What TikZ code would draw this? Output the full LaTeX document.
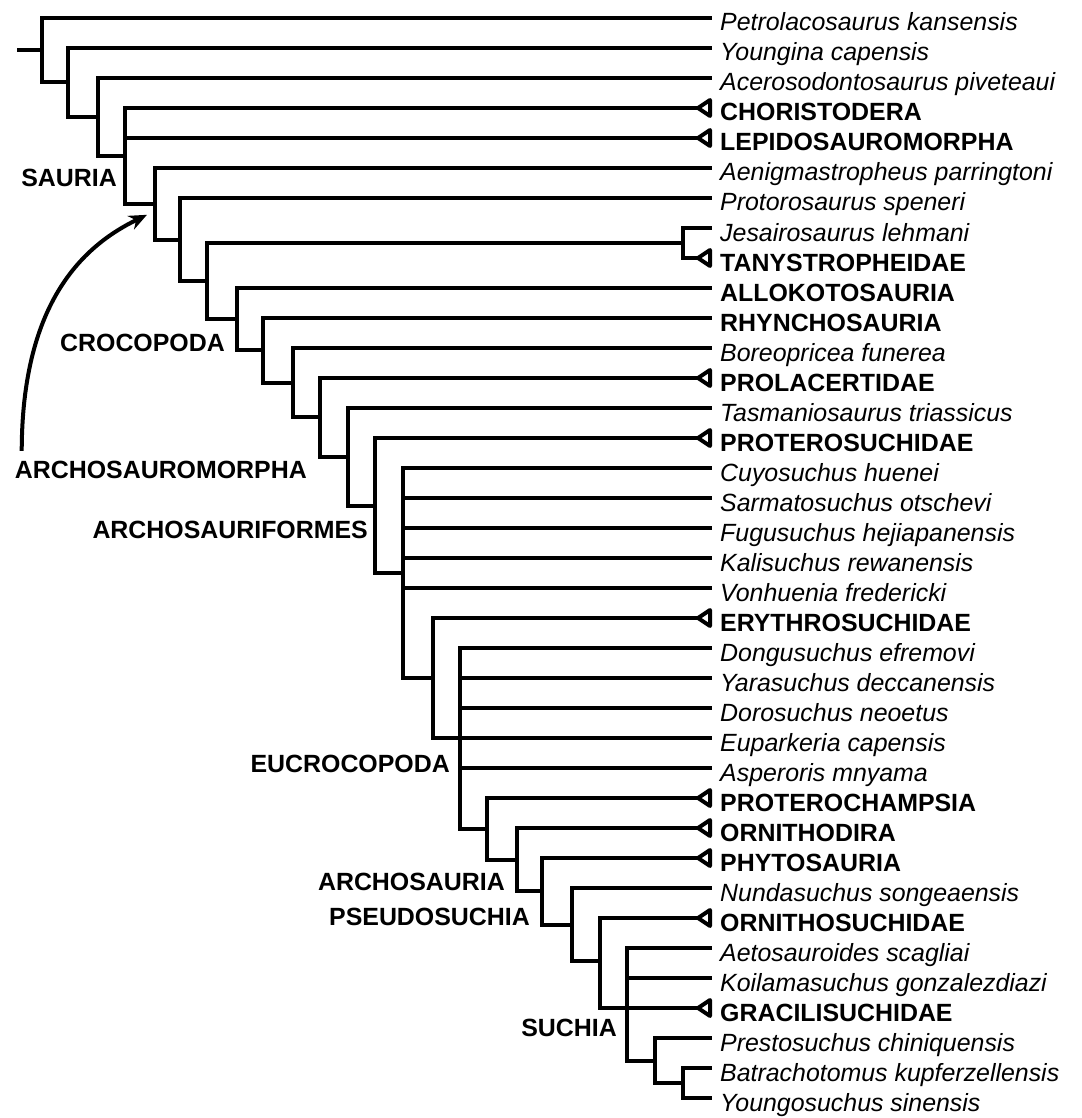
\documentclass[tikz,border=0pt]{standalone}
\usepackage{fontspec}
\setmainfont{Liberation Sans}
\usepackage{tikz}
\usetikzlibrary{arrows.meta}

\newcommand{\treefont}{\fontsize{24.9pt}{30pt}\selectfont}

\tikzset{
  branch/.style={line width=4pt},
  taxon/.style={anchor=west, inner xsep=8pt, inner ysep=0pt,
    text height=32pt, text depth=6pt, font=\treefont\itshape},
  group/.style={taxon, font=\treefont\bfseries},
  cladelabel/.style={anchor=east, inner sep=0pt, font=\treefont\bfseries},
  collapsed/.style={line width=4pt, line join=round, fill=white}
}

\begin{document}
\begin{tikzpicture}[x=1pt,y=-1pt]
\useasboundingbox (0,0) rectangle (1081,1118);

% terminal taxa, one row every 30pt
\foreach \i/\kind/\name in {
  1/taxon/Petrolacosaurus kansensis,
  2/taxon/Youngina capensis,
  3/taxon/Acerosodontosaurus piveteaui,
  4/group/CHORISTODERA,
  5/group/LEPIDOSAUROMORPHA,
  6/taxon/Aenigmastropheus parringtoni,
  7/taxon/Protorosaurus speneri,
  8/taxon/Jesairosaurus lehmani,
  9/group/TANYSTROPHEIDAE,
  10/group/ALLOKOTOSAURIA,
  11/group/RHYNCHOSAURIA,
  12/taxon/Boreopricea funerea,
  13/group/PROLACERTIDAE,
  14/taxon/Tasmaniosaurus triassicus,
  15/group/PROTEROSUCHIDAE,
  16/taxon/Cuyosuchus huenei,
  17/taxon/Sarmatosuchus otschevi,
  18/taxon/Fugusuchus hejiapanensis,
  19/taxon/Kalisuchus rewanensis,
  20/taxon/Vonhuenia fredericki,
  21/group/ERYTHROSUCHIDAE,
  22/taxon/Dongusuchus efremovi,
  23/taxon/Yarasuchus deccanensis,
  24/taxon/Dorosuchus neoetus,
  25/taxon/Euparkeria capensis,
  26/taxon/Asperoris mnyama,
  27/group/PROTEROCHAMPSIA,
  28/group/ORNITHODIRA,
  29/group/PHYTOSAURIA,
  30/taxon/Nundasuchus songeaensis,
  31/group/ORNITHOSUCHIDAE,
  32/taxon/Aetosauroides scagliai,
  33/taxon/Koilamasuchus gonzalezdiazi,
  34/group/GRACILISUCHIDAE,
  35/taxon/Prestosuchus chiniquensis,
  36/taxon/Batrachotomus kupferzellensis,
  37/taxon/Youngosuchus sinensis}
  {\node[\kind] (t\i) at (712,{18+30*(\i-1)}) {\name};}

% internal nodes
\coordinate (root) at (17,50.2);
\coordinate (n1) at (42,50.2);
\coordinate (n2) at (68,82.5);
\coordinate (n3) at (98,117);
\coordinate (n4) at (125,155.9);
\coordinate (n5) at (155,203.8);
\coordinate (n6) at (180,239.6);
\coordinate (n7) at (207,281.1);
\coordinate (nj) at (683,243);
\coordinate (n8) at (237,319.2);
\coordinate (n9) at (263,350.4);
\coordinate (n10) at (293,382.7);
\coordinate (n11) at (320,417.4);
\coordinate (n12) at (348,456.8);
\coordinate (n13) at (375,505.6);
\coordinate (n14) at (403,573.1);
\coordinate (n15) at (433,678);
\coordinate (n16) at (460,738);
\coordinate (n17) at (487,828.8);
\coordinate (n18) at (517,859.6);
\coordinate (n19) at (542,891.3);
\coordinate (n20) at (572,924.6);
\coordinate (n21) at (600,961.1);
\coordinate (n22) at (627,1008);
\coordinate (n23) at (655,1060.5);
\coordinate (n24) at (683,1083);

% branches
\draw[branch] (root) -- (n1);
\foreach \p/\c in {n1/t1, n1/n2, n2/t2, n2/n3, n3/t3, n3/n4,
    n4/t4, n4/t5, n4/n5, n5/t6, n5/n6, n6/t7, n6/n7,
    n7/nj, n7/n8, nj/t8, nj/t9, n8/t10, n8/n9, n9/t11, n9/n10,
    n10/t12, n10/n11, n11/t13, n11/n12, n12/t14, n12/n13,
    n13/t15, n13/n14, n14/t16, n14/t17, n14/t18, n14/t19, n14/t20, n14/n15,
    n15/t21, n15/n16, n16/t22, n16/t23, n16/t24, n16/t25, n16/t26, n16/n17,
    n17/t27, n17/n18, n18/t28, n18/n19, n19/t29, n19/n20,
    n20/t30, n20/n21, n21/t31, n21/n22,
    n22/t32, n22/t33, n22/t34, n22/n23, n23/t35, n23/n24, n24/t36, n24/t37}
  {\draw[branch] (\p) |- (\c);}

% collapsed clades
\foreach \i in {4,5,9,13,15,21,27,28,29,31,34}
  {\draw[collapsed] ([xshift=-2pt]t\i.west) ++(0,-8) -- ++(-12,8) -- ++(12,8) -- cycle;}

% clade names
\node[cladelabel] (sauria) at (117,178) {SAURIA};
\node[cladelabel] (crocopoda) at (225,343) {CROCOPODA};
\node[cladelabel] (archosauromorpha) at (307,470) {ARCHOSAUROMORPHA};
\node[cladelabel] (archosauriformes) at (368,530) {ARCHOSAURIFORMES};
\node[cladelabel] (eucrocopoda) at (450,764) {EUCROCOPODA};
\node[cladelabel] (archosauria) at (505,882) {ARCHOSAURIA};
\node[cladelabel] (pseudosuchia) at (530,917) {PSEUDOSUCHIA};
\node[cladelabel] (suchia) at (617,1028) {SUCHIA};

\draw[branch, -{Stealth[length=18pt,width=15pt]}]
  ([xshift=7pt,yshift=10pt]archosauromorpha.north west)
  .. controls (22,300) and (85,245) .. ([xshift=-8pt,yshift=-11pt]n5);
\end{tikzpicture}
\end{document}
